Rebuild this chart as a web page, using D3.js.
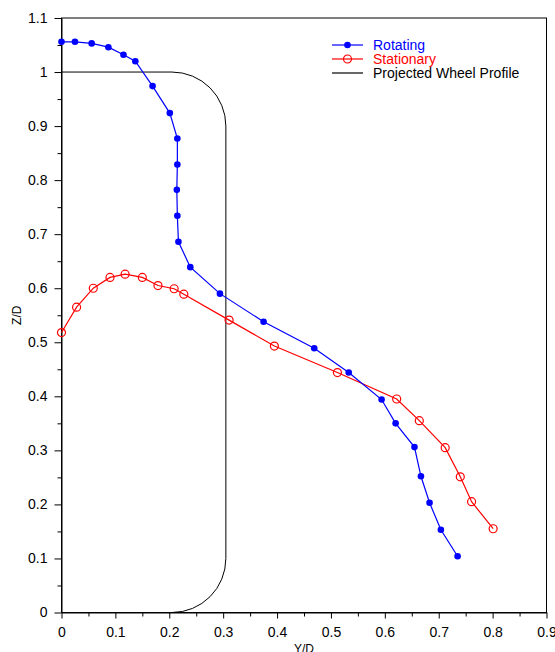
<!DOCTYPE html>
<html>
<head>
<meta charset="utf-8">
<script src="https://cdn.jsdelivr.net/npm/d3@7"></script>
<style>
  body { margin: 0; background: #fff; }
  svg { display: block; font-family: Arial, "Liberation Sans", sans-serif; }
</style>
</head>
<body>
<div id="chart"></div>
<script>
// rotating wheel (filled markers)
const rotY = [0, 0.025, 0.056, 0.087, 0.115, 0.137, 0.169, 0.201, 0.215, 0.215, 0.214, 0.215, 0.217,
  0.239, 0.294, 0.375, 0.469, 0.533, 0.594, 0.620, 0.655, 0.667, 0.683, 0.704, 0.735];
const rotZ = [1.056, 1.056, 1.053, 1.046, 1.032, 1.020, 0.974, 0.924, 0.877, 0.829, 0.782, 0.734, 0.686,
  0.639, 0.590, 0.538, 0.489, 0.444, 0.394, 0.350, 0.306, 0.252, 0.203, 0.153, 0.104];

// stationary wheel (open markers)
const statY = [0, 0.028, 0.059, 0.090, 0.118, 0.150, 0.179, 0.209, 0.227, 0.311, 0.395, 0.512,
  0.622, 0.664, 0.712, 0.740, 0.761, 0.801];
const statZ = [0.518, 0.565, 0.600, 0.620, 0.626, 0.620, 0.605, 0.599, 0.589, 0.541, 0.493, 0.444,
  0.395, 0.355, 0.305, 0.251, 0.205, 0.155];

// projected wheel profile: width, height, corner radius (Y/D, Z/D)
const wheelWidth = 0.305;
const wheelHeight = 1.0;
const wheelCorner = 0.1;

const xTicks = [0, 0.1, 0.2, 0.3, 0.4, 0.5, 0.6, 0.7, 0.8, 0.9];
const yTicks = [0, 0.1, 0.2, 0.3, 0.4, 0.5, 0.6, 0.7, 0.8, 0.9, 1, 1.1];
const legendNames = ['Rotating', 'Stationary', 'Projected Wheel Profile'];

const W = 555, H = 652;
const margin = { top: 18, right: 8.5, bottom: 39.5, left: 61.5 };
const width = W - margin.left - margin.right;
const height = H - margin.top - margin.bottom;

const svg = d3.select('#chart').append('svg')
  .attr('width', W)
  .attr('height', H);

const el = svg.append('g')
  .attr('transform', `translate(${margin.left}, ${margin.top})`);

const x = d3.scaleLinear().domain([0, 0.9]).range([0, width]);
const y = d3.scaleLinear().domain([0, 1.1]).range([height, 0]);

const fmt = d => d === 0 ? '0' : (d === 1 ? '1' : d3.format('.1f')(d));

// minor ticks (every 0.05)
const xMinor = d3.range(0.05, 0.9, 0.1);
const yMinor = d3.range(0.05, 1.1, 0.1);

el.append('g')
  .attr('transform', `translate(0, ${height})`)
  .call(d3.axisBottom(x).tickValues(xMinor).tickSize(4).tickSizeOuter(0).tickFormat(''))
  .call(g => g.select('.domain').remove());

el.append('g')
  .call(d3.axisLeft(y).tickValues(yMinor).tickSize(4).tickSizeOuter(0).tickFormat(''))
  .call(g => g.select('.domain').remove());

const xAxis = el.append('g')
  .attr('transform', `translate(0, ${height})`)
  .call(d3.axisBottom(x).tickValues(xTicks).tickSize(6).tickSizeOuter(0).tickPadding(9).tickFormat(fmt));

const yAxis = el.append('g')
  .call(d3.axisLeft(y).tickValues(yTicks).tickSize(7).tickSizeOuter(0).tickPadding(7).tickFormat(fmt));

[xAxis, yAxis].forEach(a => {
  a.selectAll('text')
    .attr('font-size', '14px')
    .attr('font-family', 'Arial, "Liberation Sans", sans-serif')
    .attr('fill', '#000');
});
xAxis.selectAll('text').attr('dy', '0.71em');

// plot frame
el.append('rect')
  .attr('x', 0)
  .attr('y', 0)
  .attr('width', width)
  .attr('height', height)
  .attr('fill', 'none')
  .attr('stroke', '#000')
  .attr('stroke-width', 1);

// axis titles
svg.append('text')
  .attr('x', margin.left + width / 2)
  .attr('y', H + 1)
  .attr('text-anchor', 'middle')
  .attr('font-size', '12px')
  .text('Y/D');

svg.append('text')
  .attr('transform', `translate(${21}, ${margin.top + height / 2}) rotate(-90)`)
  .attr('text-anchor', 'middle')
  .attr('font-size', '12px')
  .text('Z/D');

// wheel profile
const rx = x(wheelWidth) - x(wheelWidth - wheelCorner);
const ry = y(wheelHeight - wheelCorner) - y(wheelHeight);
const profile = [
  `M${x(0)},${y(wheelHeight)}`,
  `L${x(wheelWidth - wheelCorner)},${y(wheelHeight)}`,
  `A${rx},${ry} 0 0 1 ${x(wheelWidth)},${y(wheelHeight - wheelCorner)}`,
  `L${x(wheelWidth)},${y(wheelCorner)}`,
  `A${rx},${ry} 0 0 1 ${x(wheelWidth - wheelCorner)},${y(0)}`
].join(' ');

el.append('path')
  .attr('d', profile)
  .attr('fill', 'none')
  .attr('stroke', '#000')
  .attr('stroke-width', 1);

const line = d3.line()
  .x(d => x(d[0]))
  .y(d => y(d[1]));

const statData = d3.zip(statY, statZ);
const rotData = d3.zip(rotY, rotZ);

el.append('path')
  .datum(statData)
  .attr('d', line)
  .attr('fill', 'none')
  .attr('stroke', '#ff0000')
  .attr('stroke-width', 1.2);

el.selectAll('.stat')
  .data(statData)
  .enter().append('circle')
  .attr('cx', d => x(d[0]))
  .attr('cy', d => y(d[1]))
  .attr('r', 4)
  .attr('fill', 'none')
  .attr('stroke', '#ff0000')
  .attr('stroke-width', 1.2);

el.append('path')
  .datum(rotData)
  .attr('d', line)
  .attr('fill', 'none')
  .attr('stroke', '#0000ff')
  .attr('stroke-width', 1.2);

el.selectAll('.rot')
  .data(rotData)
  .enter().append('circle')
  .attr('cx', d => x(d[0]))
  .attr('cy', d => y(d[1]))
  .attr('r', 3.3)
  .attr('fill', '#0000ff');

// legend
const colors = ['#0000ff', '#ff0000', '#000'];
const legend = svg.append('g').attr('transform', 'translate(332, 45)');
legendNames.forEach((name, i) => {
  const row = legend.append('g').attr('transform', `translate(0, ${i * 14})`);
  row.append('line')
    .attr('x1', 0).attr('x2', 31)
    .attr('y1', 0).attr('y2', 0)
    .attr('stroke', colors[i])
    .attr('stroke-width', 1.2);
  if (i === 0) {
    row.append('circle').attr('cx', 15.5).attr('cy', 0).attr('r', 3.3).attr('fill', colors[i]);
  } else if (i === 1) {
    row.append('circle').attr('cx', 15.5).attr('cy', 0).attr('r', 4)
      .attr('fill', 'none').attr('stroke', colors[i]).attr('stroke-width', 1.2);
  }
  row.append('text')
    .attr('x', 41)
    .attr('y', 0)
    .attr('dy', '0.35em')
    .attr('font-size', '14px')
    .attr('fill', colors[i])
    .text(name);
});
</script>
</body>
</html>
